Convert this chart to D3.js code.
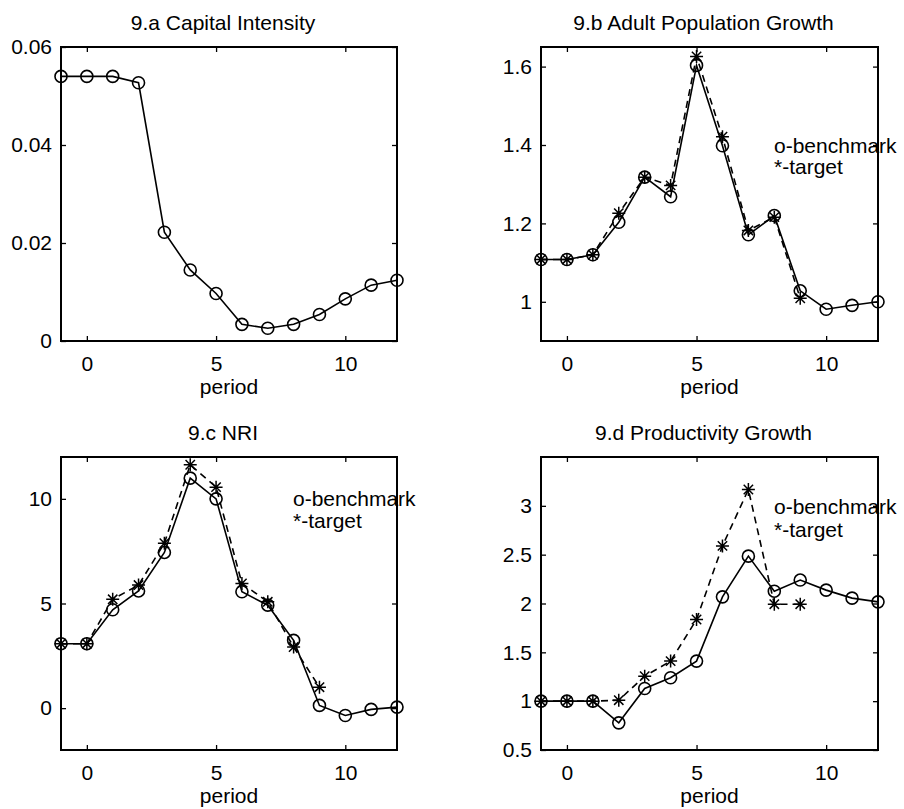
<!DOCTYPE html>
<html>
<head>
<meta charset="utf-8">
<script src="https://cdn.jsdelivr.net/npm/d3@7"></script>
<style>
  html, body { margin: 0; padding: 0; background: #fff; }
  svg { display: block; }
  text { font-family: "Liberation Sans", Arial, sans-serif; fill: #000; }
</style>
</head>
<body>
<svg id="chart" width="904" height="809"></svg>
<script>
// ---------------- data ----------------
const periods = [-1, 0, 1, 2, 3, 4, 5, 6, 7, 8, 9, 10, 11, 12];
const targetPeriods = [-1, 0, 1, 2, 3, 4, 5, 6, 7, 8, 9];

const capitalBenchmark = [0.0540, 0.0540, 0.0540, 0.0527, 0.0222, 0.0145, 0.0097, 0.0034, 0.0026, 0.0034, 0.0054, 0.0086, 0.0114, 0.0124];

const popBenchmark = [1.108, 1.108, 1.120, 1.203, 1.318, 1.268, 1.603, 1.398, 1.171, 1.220, 1.028, 0.981, 0.991, 1.000];
const popTarget    = [1.108, 1.108, 1.120, 1.226, 1.318, 1.297, 1.626, 1.421, 1.182, 1.216, 1.009];

const nriBenchmark = [3.08, 3.08, 4.70, 5.60, 7.44, 10.99, 10.00, 5.56, 4.92, 3.24, 0.13, -0.35, -0.06, 0.05];
const nriTarget    = [3.08, 3.08, 5.20, 5.88, 7.88, 11.63, 10.56, 5.96, 5.08, 2.92, 1.00];

const prodBenchmark = [1.00, 1.00, 1.00, 0.778, 1.13, 1.24, 1.41, 2.068, 2.485, 2.126, 2.24, 2.137, 2.055, 2.017];
const prodTarget    = [1.00, 1.00, 1.00, 1.01, 1.256, 1.41, 1.836, 2.59, 3.167, 1.993, 1.993];

const titles = ["9.a Capital Intensity", "9.b Adult Population Growth", "9.c NRI", "9.d Productivity Growth"];
const xTicks = [0, 5, 10];
const xTickLabels = ["0", "5", "10"];
const yTicksA = [0, 0.02, 0.04, 0.06];
const yTickLabelsA = ["0", "0.02", "0.04", "0.06"];
const yTicksB = [1, 1.2, 1.4, 1.6];
const yTickLabelsB = ["1", "1.2", "1.4", "1.6"];
const yTicksC = [0, 5, 10];
const yTickLabelsC = ["0", "5", "10"];
const yTicksD = [0.5, 1, 1.5, 2, 2.5, 3];
const yTickLabelsD = ["0.5", "1", "1.5", "2", "2.5", "3"];
const legendLines = ["o-benchmark", "*-target"];
const xLabel = "period";

// ---------------- layout ----------------
const FONT = 21;
const panels = [
  { title: titles[0], box: [61, 397, 47, 341], yDomain: [0, 0.06], yTicks: yTicksA, yLabels: yTickLabelsA,
    bench: capitalBenchmark, target: null, legend: null },
  { title: titles[1], box: [541, 878, 47, 341], yDomain: [0.9, 1.65], yTicks: yTicksB, yLabels: yTickLabelsB,
    bench: popBenchmark, target: popTarget, legend: [774, 153, 174] },
  { title: titles[2], box: [61, 397, 457, 750], yDomain: [-2, 12], yTicks: yTicksC, yLabels: yTickLabelsC,
    bench: nriBenchmark, target: nriTarget, legend: [293, 506, 528] },
  { title: titles[3], box: [541, 878, 457, 750], yDomain: [0.5, 3.5], yTicks: yTicksD, yLabels: yTickLabelsD,
    bench: prodBenchmark, target: prodTarget, legend: [774, 514, 537] }
];

const svg = d3.select("#chart");

function starPath(s) {
  const a = s, b = s * 0.72;
  return `M${-a},0L${a},0M0,${-a}L0,${a}M${-b},${-b}L${b},${b}M${-b},${b}L${b},${-b}`;
}

panels.forEach(p => {
  const [x0, x1, y0, y1] = p.box;
  const x = d3.scaleLinear().domain([-1, 12]).range([x0, x1]);
  const y = d3.scaleLinear().domain(p.yDomain).range([y1, y0]);
  const g = svg.append("g");

  // title
  g.append("text").attr("x", (x0 + x1) / 2 - 6).attr("y", y0 - 17)
    .attr("text-anchor", "middle").style("font-size", FONT + "px").text(p.title);

  // legend text (drawn below axes box lines)
  if (p.legend) {
    legendLines.forEach((t, i) => {
      g.append("text").attr("x", p.legend[0]).attr("y", p.legend[1 + i])
        .style("font-size", FONT + "px").text(t);
    });
  }

  // data lines
  const line = d3.line().x(d => x(d[0])).y(d => y(d[1]));
  const benchPts = periods.map((t, i) => [t, p.bench[i]]);
  if (p.target) {
    const targPts = targetPeriods.map((t, i) => [t, p.target[i]]);
    g.append("path").attr("d", line(targPts)).attr("fill", "none")
      .attr("stroke", "#000").attr("stroke-width", 1.6).attr("stroke-dasharray", "7,5");
    g.selectAll(".star").data(targPts).enter().append("path")
      .attr("transform", d => `translate(${x(d[0])},${y(d[1])})`)
      .attr("d", starPath(6.5)).attr("fill", "none").attr("stroke", "#000").attr("stroke-width", 1.5);
  }
  g.append("path").attr("d", line(benchPts)).attr("fill", "none")
    .attr("stroke", "#000").attr("stroke-width", 1.6);
  g.selectAll(".circ").data(benchPts).enter().append("circle")
    .attr("cx", d => x(d[0])).attr("cy", d => y(d[1])).attr("r", 6)
    .attr("fill", "none").attr("stroke", "#000").attr("stroke-width", 1.6);

  // axes
  const bottom = g.append("g").attr("transform", `translate(0,${y1})`)
    .call(d3.axisBottom(x).tickValues(xTicks).tickFormat((d, i) => xTickLabels[i])
      .tickSizeInner(-5).tickSizeOuter(0).tickPadding(15));
  const left = g.append("g").attr("transform", `translate(${x0},0)`)
    .call(d3.axisLeft(y).tickValues(p.yTicks).tickFormat((d, i) => p.yLabels[i])
      .tickSizeInner(-5).tickSizeOuter(0).tickPadding(9));
  const top = g.append("g").attr("transform", `translate(0,${y0})`)
    .call(d3.axisTop(x).tickValues(xTicks).tickFormat("").tickSizeInner(-5).tickSizeOuter(0));
  const right = g.append("g").attr("transform", `translate(${x1},0)`)
    .call(d3.axisRight(y).tickValues(p.yTicks).tickFormat("").tickSizeInner(-5).tickSizeOuter(0));
  [bottom, left, top, right].forEach(a => {
    a.select(".domain").remove();
    a.selectAll("line").attr("stroke", "#000").attr("stroke-width", 1.3);
    a.selectAll("text").style("font-size", FONT + "px").style("font-family", '"Liberation Sans", Arial, sans-serif').attr("fill", "#000");
  });

  // box
  g.append("rect").attr("x", x0).attr("y", y0).attr("width", x1 - x0).attr("height", y1 - y0)
    .attr("fill", "none").attr("stroke", "#000").attr("stroke-width", 2);

  // x label
  g.append("text").attr("x", (x0 + x1) / 2).attr("y", y1 + 53)
    .attr("text-anchor", "middle").style("font-size", FONT + "px").text(xLabel);
});
</script>
</body>
</html>
